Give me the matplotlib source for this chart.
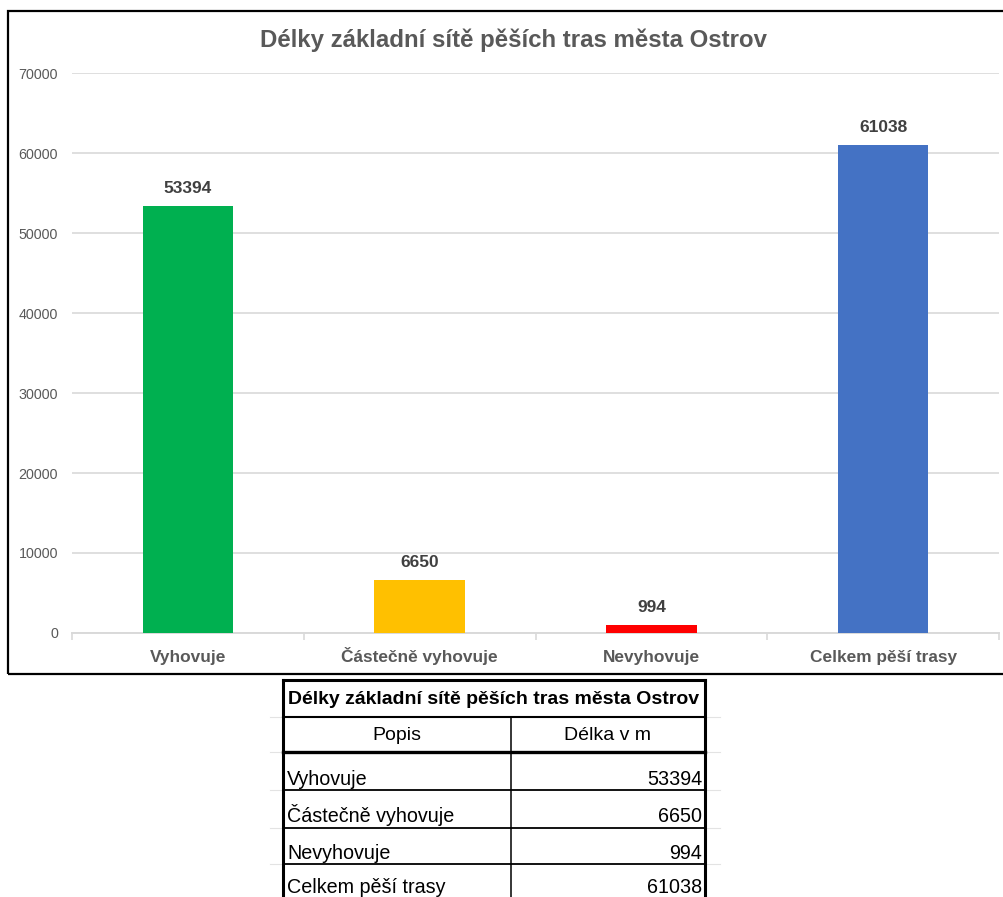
import matplotlib
matplotlib.use("Agg")
import matplotlib.pyplot as plt
from matplotlib.lines import Line2D
from matplotlib.patches import Rectangle

# Data
categories = ["Vyhovuje", "Částečně vyhovuje", "Nevyhovuje", "Celkem pěší trasy"]
lengths_m = [53394, 6650, 994, 61038]
bar_colors = ["#00B050", "#FFC000", "#FF0000", "#4472C4"]
y_ticks = [0, 10000, 20000, 30000, 40000, 50000, 60000, 70000]
title = "Délky základní sítě pěších tras města Ostrov"
table_header = ["Popis", "Délka v m"]

W, H = 1004, 897
plt.rcParams["font.family"] = ["Liberation Sans", "DejaVu Sans"]
fig = plt.figure(figsize=(W / 100, H / 100), dpi=100)


def fx(px):
    return px / W


def fy(py):
    return 1 - py / H


# Chart frame
fig.add_artist(Rectangle((fx(8), fy(674)), fx(1010) - fx(8), fy(11) - fy(674),
                         transform=fig.transFigure, fill=False,
                         edgecolor="black", linewidth=1.6))

# Plot area
ax = fig.add_axes([fx(72), fy(633), fx(999) - fx(72), fy(73) - fy(633)])
x = range(len(categories))
ax.bar(x, lengths_m, width=0.39, color=bar_colors, zorder=3)
ax.set_xlim(-0.5, len(categories) - 0.5)
ax.set_ylim(0, 70000)
ax.set_yticks(y_ticks)
ax.set_yticklabels([str(v) for v in y_ticks])
ax.yaxis.grid(True, color="#D9D9D9", linewidth=1.2, zorder=0)
ax.set_axisbelow(True)
for s in ["top", "right", "left"]:
    ax.spines[s].set_visible(False)
ax.spines["bottom"].set_color("#D9D9D9")
ax.spines["bottom"].set_linewidth(1.4)
ax.tick_params(axis="y", length=0, pad=10, labelsize=10.3, labelcolor="#595959")
ax.set_xticks(list(x))
ax.set_xticklabels(categories, fontweight="bold", va="baseline")
ax.set_xticks([i - 0.5 for i in range(len(categories) + 1)], minor=True)
ax.tick_params(axis="x", which="major", length=0, pad=21, labelsize=12.4,
               labelcolor="#595959")
ax.tick_params(axis="x", which="minor", length=5, width=1.2, color="#D9D9D9")

for xi, v in zip(x, lengths_m):
    ax.annotate(str(v), (xi, v), xytext=(0, 7), textcoords="offset points",
                ha="center", va="bottom", fontsize=12.5, fontweight="bold",
                color="#404040")

fig.text(fx(514), fy(40), title, ha="center", va="center", fontsize=17.3,
         fontweight="bold", color="#595959")

# Table below the chart
tl, tr, tc = 283, 705, 511
t_top, t_title, t_head = 680, 717, 752
row_lines = [790, 828, 864, 902]


def hline(y, x0, x1, lw, color="black"):
    fig.add_artist(Line2D([fx(x0), fx(x1)], [fy(y), fy(y)],
                          transform=fig.transFigure, color=color,
                          linewidth=lw, solid_capstyle="projecting"))


def vline(x_, y0, y1, lw):
    fig.add_artist(Line2D([fx(x_), fx(x_)], [fy(y0), fy(y1)],
                          transform=fig.transFigure, color="black",
                          linewidth=lw, solid_capstyle="projecting"))


# faint spreadsheet gridlines next to the table
for gy in [717, 752, 790, 828, 864]:
    hline(gy, 270, 281, 0.8, "#E3E3E3")
    hline(gy, 707, 720, 0.8, "#E3E3E3")

hline(t_top, tl, tr, 2.2)
hline(t_title, tl, tr, 1.5)
hline(t_head, tl, tr, 2.4)
for ry in row_lines[:-1]:
    hline(ry, tl, tr, 1.3)
vline(tl, t_top, 900, 2.2)
vline(tr, t_top, 900, 2.2)
vline(tc, t_title, 900, 1.1)

fig.text(fx((tl + tr) / 2), fy((t_top + t_title) / 2 + 1), title,
         ha="center", va="center", fontsize=14, fontweight="bold", color="black")
fig.text(fx((tl + tc) / 2), fy((t_title + t_head) / 2 + 1), table_header[0],
         ha="center", va="center", fontsize=14, color="black")
fig.text(fx((tc + tr) / 2), fy((t_title + t_head) / 2 + 1), table_header[1],
         ha="center", va="center", fontsize=14, color="black")

baselines = [785, 822, 859, 893]
for name, v, bl in zip(categories, lengths_m, baselines):
    fig.text(fx(tl + 4), fy(bl), name, ha="left", va="baseline",
             fontsize=14.2, color="black")
    fig.text(fx(tr - 3), fy(bl), str(v), ha="right", va="baseline",
             fontsize=14.2, color="black")

fig.savefig("out.png", dpi=100, facecolor="white")
